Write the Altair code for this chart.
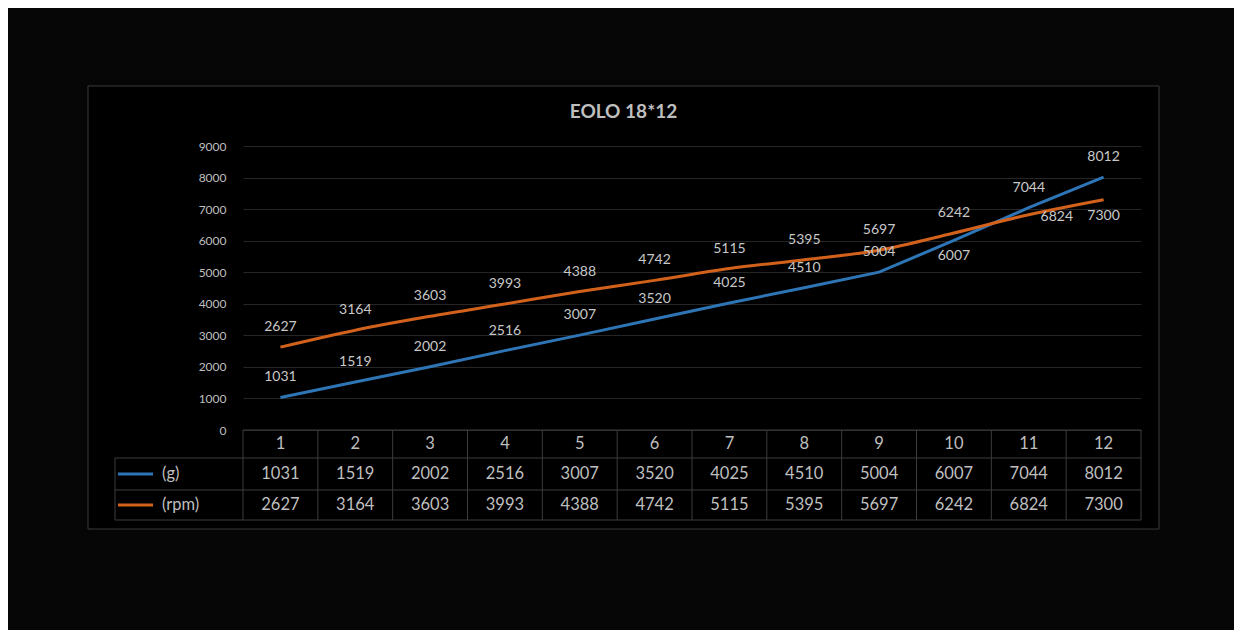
import altair as alt
import pandas as pd

# ---------------- data ----------------
categories = [1, 2, 3, 4, 5, 6, 7, 8, 9, 10, 11, 12]
g_values = [1031, 1519, 2002, 2516, 3007, 3520, 4025, 4510, 5004, 6007, 7044, 8012]
rpm_values = [2627, 3164, 3603, 3993, 4388, 4742, 5115, 5395, 5697, 6242, 6824, 7300]
g_label_pos = ["above"] * 9 + ["below", "above", "above"]
rpm_label_pos = ["above"] * 10 + ["right", "below"]
series_names = ["(g)", "(rpm)"]
series_colors = ["#2E75B6", "#D2621B"]
y_ticks = [0, 1000, 2000, 3000, 4000, 5000, 6000, 7000, 8000, 9000]
title_text = "EOLO 18*12"

rows = []
for i, c in enumerate(categories):
    rows.append(dict(x=c, series=series_names[0], value=g_values[i], pos=g_label_pos[i]))
    rows.append(dict(x=c, series=series_names[1], value=rpm_values[i], pos=rpm_label_pos[i]))
df = pd.DataFrame(rows)
bounds = pd.DataFrame({"b": [c - 0.5 for c in categories] + [categories[-1] + 0.5]})

# ---------------- style ----------------
TXT = "#bfbfbf"
LBL = "#c8c8c8"
GRID = "#262626"
TBL = "#3c3c3c"
OUTER = "#060606"
W, H = 898, 284

xs = alt.Scale(domain=[categories[0] - 0.5, categories[-1] + 0.5], nice=False, zero=False)
ys = alt.Scale(domain=[0, 9000], nice=False)
cs = alt.Scale(domain=series_names, range=series_colors)
X = alt.X("x:Q", scale=xs, axis=None)
Y_AXIS = alt.Axis(
    values=y_ticks, format="d", grid=True, gridColor=GRID, gridWidth=1, domain=False,
    ticks=False, labelColor=TXT, labelFontSize=12, labelPadding=17, labelOverlap=False,
    title=None)
Y = alt.Y("value:Q", scale=ys, axis=Y_AXIS)
one = alt.Data(values=[{}])


def frame(x1, x2, y1, y2):
    return alt.Chart(one).mark_rect(fill=OUTER, strokeWidth=0).encode(
        x=alt.value(x1), x2=alt.value(x2), y=alt.value(y1), y2=alt.value(y2))


# area outside the chart box (page background is black inside the box)
outer_top = frame(-240, 1000, -145, -60)
outer_bottom = frame(-240, 1000, 383, 490)
outer_left = frame(-240, -155, -60, 383)
outer_right = frame(916, 1000, -60, 383)

box = alt.Chart(one).mark_rect(fill=None, stroke="#3a3a3a", strokeWidth=1).encode(
    x=alt.value(-155), x2=alt.value(916), y=alt.value(-60), y2=alt.value(383)
)

title = alt.Chart(one).mark_text(
    text=title_text, fontSize=19, fontWeight="bold", color=TXT, align="center", baseline="middle"
).encode(x=alt.value(380.5), y=alt.value(-34))

base = alt.Chart(df)

line_g = base.transform_filter(alt.datum.series == series_names[0]).mark_line(
    strokeWidth=3, interpolate="linear"
).encode(x=X, y=Y, color=alt.Color("series:N", scale=cs, legend=None))

line_r = base.transform_filter(alt.datum.series == series_names[1]).mark_line(
    strokeWidth=3, interpolate="monotone"
).encode(x=X, y=Y, color=alt.Color("series:N", scale=cs, legend=None))


def labels(pos, dx, dy):
    return base.transform_filter(alt.datum.pos == pos).mark_text(
        fontSize=14, color=LBL, align="center", baseline="middle", dx=dx, dy=dy
    ).encode(x=X, y=Y, text="value:Q")


lab_above = labels("above", 0, -20)
lab_below = labels("below", 0, 16)
lab_right = labels("right", 28, 2)

# ---------------- data table ----------------
hline_top = alt.Chart(one).mark_rule(color=TBL, strokeWidth=1).encode(
    x=alt.value(0), x2=alt.value(W), y=alt.value(284))
hline1 = alt.Chart(one).mark_rule(color=TBL, strokeWidth=1).encode(
    x=alt.value(-128), x2=alt.value(W), y=alt.value(312))
hline2 = alt.Chart(one).mark_rule(color=TBL, strokeWidth=1).encode(
    x=alt.value(-128), x2=alt.value(W), y=alt.value(344))
hline3 = alt.Chart(one).mark_rule(color=TBL, strokeWidth=1).encode(
    x=alt.value(-128), x2=alt.value(W), y=alt.value(374))
vleft = alt.Chart(one).mark_rule(color=TBL, strokeWidth=1).encode(
    x=alt.value(-128), y=alt.value(312), y2=alt.value(374))
vlines = alt.Chart(bounds).mark_rule(color=TBL, strokeWidth=1).encode(
    x=alt.X("b:Q", scale=xs, axis=None), y=alt.value(284), y2=alt.value(374))

head = base.transform_filter(alt.datum.series == series_names[0]).mark_text(
    fontSize=16.5, color=TXT, align="center", baseline="middle"
).encode(x=X, y=alt.value(298), text="x:Q")

row_g = base.transform_filter(alt.datum.series == series_names[0]).mark_text(
    fontSize=16.5, color=TXT, align="center", baseline="middle"
).encode(x=X, y=alt.value(328), text="value:Q")

row_r = base.transform_filter(alt.datum.series == series_names[1]).mark_text(
    fontSize=16.5, color=TXT, align="center", baseline="middle"
).encode(x=X, y=alt.value(359), text="value:Q")

leg_df = pd.DataFrame({"series": series_names, "row": [0, 1]})
leg_g = alt.Chart(leg_df).transform_filter(alt.datum.row == 0)
leg_r = alt.Chart(leg_df).transform_filter(alt.datum.row == 1)

sw_g = leg_g.mark_rule(strokeWidth=3).encode(
    x=alt.value(-125), x2=alt.value(-90), y=alt.value(328),
    color=alt.Color("series:N", scale=cs, legend=None))
sw_r = leg_r.mark_rule(strokeWidth=3).encode(
    x=alt.value(-125), x2=alt.value(-90), y=alt.value(359),
    color=alt.Color("series:N", scale=cs, legend=None))
tx_g = leg_g.mark_text(fontSize=16.5, color=TXT, align="left", baseline="middle").encode(
    x=alt.value(-81), y=alt.value(328), text="series:N")
tx_r = leg_r.mark_text(fontSize=16.5, color=TXT, align="left", baseline="middle").encode(
    x=alt.value(-81), y=alt.value(359), text="series:N")

chart = alt.layer(
    outer_top, outer_bottom, outer_left, outer_right, box, title,
    hline_top, hline1, hline2, hline3, vleft, vlines,
    line_g, line_r, lab_above, lab_below, lab_right,
    head, row_g, row_r, sw_g, sw_r, tx_g, tx_r,
).properties(
    width=W, height=H,
    autosize=alt.AutoSizeParams(type="none"),
    padding={"left": 235, "top": 138, "right": 93, "bottom": 200},
    background="#000000",
).configure(font="Lato").configure_view(stroke=None)

chart.save("out.html", embed_options={"renderer": "svg", "actions": False})
